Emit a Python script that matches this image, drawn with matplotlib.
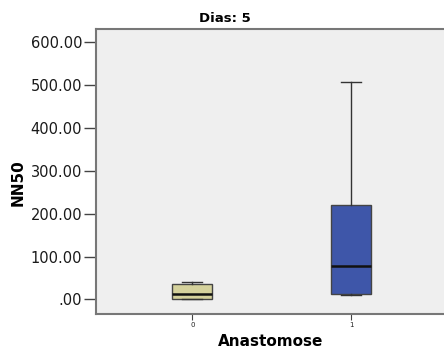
import matplotlib
matplotlib.use("Agg")
import matplotlib.pyplot as plt

categories = ["0", "1"]
whisker_low = [0.5, 9.0]
q1_vals = [1.5, 12.0]
medians = [12.0, 77.0]
q3_vals = [36.0, 221.0]
whisker_high = [41.0, 508.0]
y_ticks = [0, 100, 200, 300, 400, 500, 600]
y_tick_labels = [".00", "100.00", "200.00", "300.00", "400.00", "500.00", "600.00"]
box_colors = ["#d5d29c", "#3e56a9"]

fig = plt.figure(figsize=(4.44, 3.56), dpi=100)
W, H = 444, 356
left_px, right_px, top_px, bot_px = 96, 470, 29, 314
ax = fig.add_axes([left_px / W, 1 - bot_px / H, (right_px - left_px) / W, (bot_px - top_px) / H])
ax.set_facecolor("#efefef")

stats = []
for i, c in enumerate(categories):
    stats.append(dict(label=c, whislo=whisker_low[i], q1=q1_vals[i], med=medians[i],
                      q3=q3_vals[i], whishi=whisker_high[i], fliers=[]))
positions = list(range(len(categories)))
res = ax.bxp(stats, positions=positions, widths=0.25, patch_artist=True, showfliers=False,
             boxprops=dict(edgecolor="#444444", linewidth=1.0),
             medianprops=dict(color="#111111", linewidth=1.8),
             whiskerprops=dict(color="#333333", linewidth=1.0),
             capprops=dict(color="#333333", linewidth=1.0), capwidths=0.125)
for patch, col in zip(res["boxes"], box_colors):
    patch.set_facecolor(col)

ax.set_xlim(-0.607, (right_px - 192.3) / 158.7)
ax.set_ylim(-34.3, 631.5)
ax.set_yticks(y_ticks)
ax.set_yticklabels(y_tick_labels, fontsize=10.5, color="#1a1a1a")
ax.set_xticks(positions)
ax.set_xticklabels(categories, fontsize=5, color="#222222")
ax.tick_params(axis="y", length=9, width=1, color="#444444", pad=1)
ax.tick_params(axis="x", length=4, width=0.8, color="#444444", pad=2)
for s in ax.spines.values():
    s.set_color("#777777")
    s.set_linewidth(1.5)

fig.text(225 / W, 1 - 19 / H, "Dias: 5", ha="center", va="center", fontsize=9.5, fontweight="bold")
fig.text(18 / W, 1 - 183 / H, "NN50", ha="center", va="center", rotation=90, fontsize=11, fontweight="bold")
fig.text(271 / W, 1 - 342 / H, "Anastomose", ha="center", va="center", fontsize=11, fontweight="bold")

fig.savefig("out.png", dpi=100)
